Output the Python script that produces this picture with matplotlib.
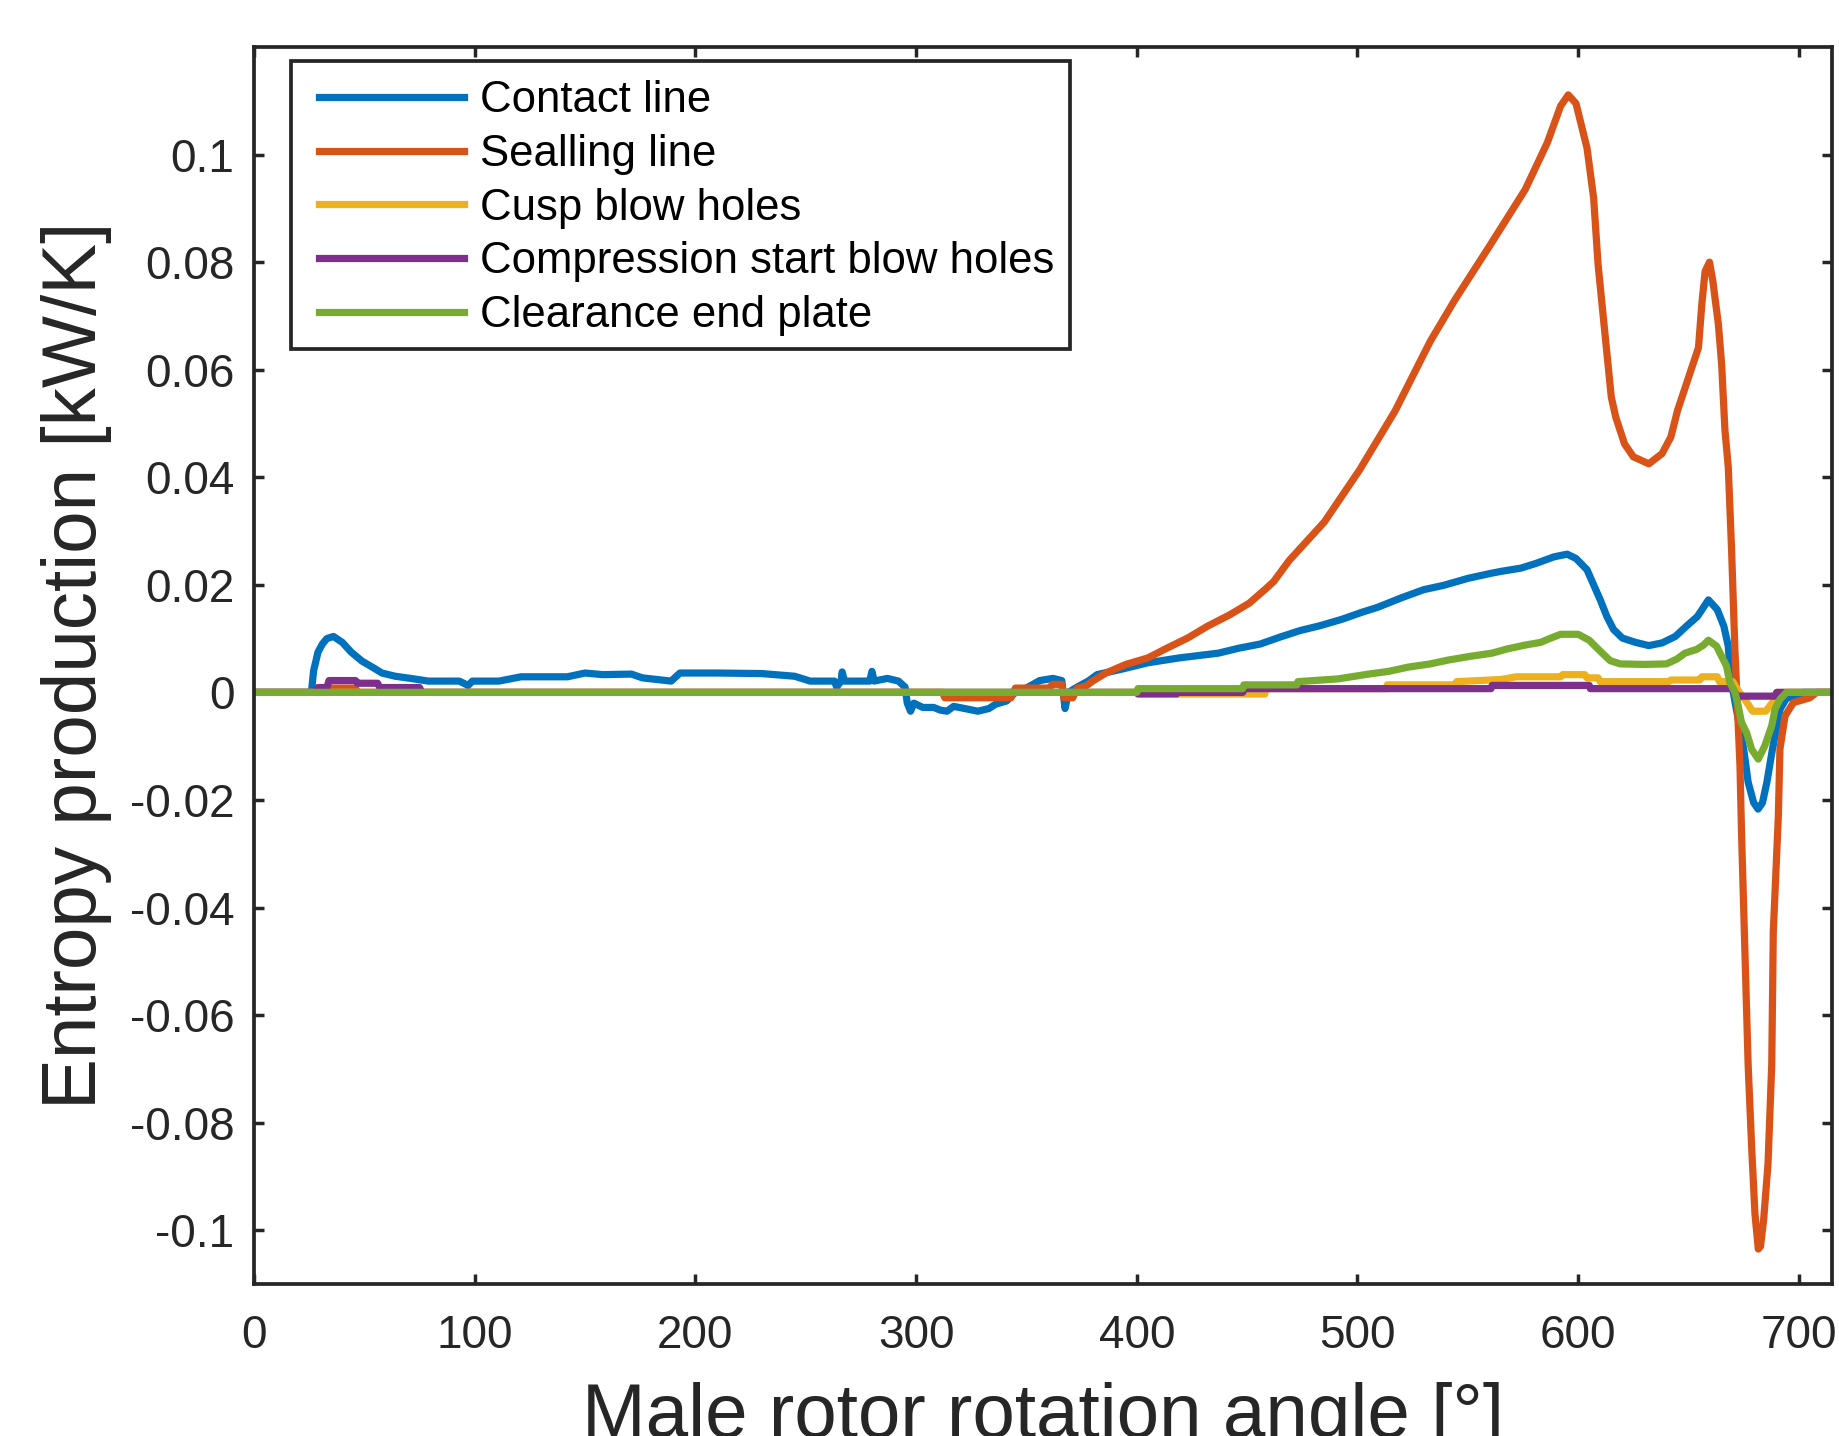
import matplotlib
matplotlib.use("Agg")
import matplotlib.pyplot as plt
from matplotlib.ticker import FixedLocator, FixedFormatter
from matplotlib.patches import Rectangle

plt.rcParams['font.family'] = ['Liberation Sans', 'DejaVu Sans']
plt.rcParams['axes.unicode_minus'] = False

# ---------------- data ----------------
contact_x = [0, 26, 27, 29, 31, 33, 36, 40, 44, 49, 54, 58, 64, 71, 79, 93, 97, 99, 111, 121, 142, 150, 158,
             171, 176, 189, 193, 210, 230, 245, 252, 263, 264, 266, 266.5, 267.5, 279, 280, 281, 287, 292,
             295, 296, 297.5, 299, 303, 308, 311, 314, 317, 322, 328, 333, 336, 341, 345, 349, 353, 356,
             362, 366, 367.5, 369, 373, 378, 382, 393, 405, 419, 437, 446, 456, 465, 474, 483, 493, 502,
             509, 520, 530, 539, 550, 560, 565, 574, 581, 589, 595, 599, 604, 607, 610, 613, 616, 620, 626,
             632, 638, 644, 649, 654, 659, 663, 666, 668, 669, 670, 675, 677, 679.5, 681.5, 683.5, 685.5,
             688, 691.5, 694.5, 700, 702, 715]
contact_y = [0, 0, 0.004, 0.0075, 0.0090, 0.0100, 0.0104, 0.0093, 0.0075, 0.0058, 0.0046, 0.0036, 0.0030,
             0.0026, 0.0021, 0.0021, 0.0013, 0.0021, 0.0021, 0.0029, 0.0029, 0.0036, 0.0033, 0.0034, 0.0027,
             0.0021, 0.0036, 0.0036, 0.0035, 0.0030, 0.0021, 0.0021, 0.0010, 0.0021, 0.0038, 0.0021, 0.0021,
             0.0039, 0.0021, 0.0026, 0.0021, 0.0010, -0.0020, -0.0035, -0.0020, -0.0028, -0.0028, -0.0033,
             -0.0035, -0.0026, -0.0030, -0.0035, -0.0030, -0.0022, -0.0016, 0.0000, 0.0006, 0.0015, 0.0022,
             0.0026, 0.0022, -0.0030, 0.0000, 0.0010, 0.0021, 0.0033, 0.0043, 0.0055, 0.0064, 0.0073, 0.0082,
             0.0090, 0.0103, 0.0115, 0.0124, 0.0136, 0.0149, 0.0158, 0.0176, 0.0191, 0.0199, 0.0212, 0.0221,
             0.0225, 0.0231, 0.0240, 0.0252, 0.0257, 0.0249, 0.0228, 0.0200, 0.0172, 0.0141, 0.0117, 0.0101,
             0.0093, 0.0087, 0.0092, 0.0104, 0.0123, 0.0141, 0.0172, 0.0154, 0.0123, 0.0086, 0.0030, 0.0006,
             -0.0106, -0.0167, -0.0205, -0.0217, -0.0205, -0.0167, -0.0106, -0.0031, -0.0010, -0.0010, 0.0, 0.0]

sealing_x = [0, 33, 34, 46, 47, 312, 313, 343, 345, 360, 362, 366, 367, 371, 373, 377, 380, 386, 395, 405,
             414, 423, 432, 442, 451, 458, 462, 469, 485, 501, 517, 533, 544, 560, 576, 586, 592, 595.5, 599,
             604, 607, 609, 612, 615, 617, 621, 625, 632, 638, 642, 645, 651, 654.5, 656, 657.5, 659.5, 661,
             663.5, 665, 666.5, 668, 669.5, 671, 672, 673.3, 674, 675.5, 677, 678.6, 680.1, 681.6, 682.6, 684,
             686, 687.7, 688.4, 690.7, 691.4, 693.7, 697.5, 705, 708, 715]
sealing_y = [0, 0, 0.0008, 0.0008, 0, 0, -0.0010, -0.0010, 0.0008, 0.0008, 0.0015, 0.0015, -0.0010, -0.0010,
             0.0008, 0.0012, 0.0021, 0.0036, 0.0052, 0.0064, 0.0083, 0.0101, 0.0123, 0.0144, 0.0166, 0.0191,
             0.0206, 0.0245, 0.0317, 0.0414, 0.0523, 0.0653, 0.0729, 0.0831, 0.0935, 0.1022, 0.1090, 0.1111,
             0.1095, 0.1012, 0.0919, 0.0796, 0.0672, 0.0549, 0.0512, 0.0462, 0.0438, 0.0425, 0.0444, 0.0475,
             0.0524, 0.0598, 0.0641, 0.0721, 0.0783, 0.0800, 0.0765, 0.0685, 0.0610, 0.0487, 0.0419, 0.0265,
             0.0080, -0.0013, -0.0136, -0.0260, -0.0476, -0.0692, -0.0846, -0.0970, -0.1035, -0.1030, -0.0982,
             -0.0877, -0.0692, -0.0445, -0.0229, -0.0106, -0.0044, -0.0019, -0.0010, 0.0, 0.0]

cusp_x = [0, 418, 418.5, 458, 458.5, 513, 513.5, 544, 545, 565, 572, 592, 593, 603, 604, 609, 610, 641, 642,
          655, 656, 663, 664, 670, 673, 676, 679, 685, 688, 690, 715]
cusp_y = [0, 0, -0.0003, -0.0003, 0.0007, 0.0007, 0.0014, 0.0014, 0.0020, 0.0024, 0.0029, 0.0029, 0.0033,
          0.0033, 0.0027, 0.0027, 0.0020, 0.0020, 0.0023, 0.0023, 0.0029, 0.0029, 0.0020, 0.0020, 0.0,
          -0.0016, -0.0035, -0.0035, -0.0019, 0.0, 0]

compression_x = [0, 28, 29, 33, 34, 46, 47, 56, 57, 75, 76, 400, 400.5, 418, 418.5, 448, 448.5, 560.5,
                 561, 605, 605.5, 670, 672, 689, 690, 715]
compression_y = [0, 0, 0.0009, 0.0009, 0.0022, 0.0022, 0.0017, 0.0017, 0.0009, 0.0009, 0, 0, -0.0003,
                 -0.0003, 0, 0, 0.0007, 0.0007, 0.0013, 0.0013, 0.0007, 0.0007, -0.0007, -0.0007, 0, 0]

clearance_x = [0, 400, 400.5, 448, 448.5, 472.5, 473, 491, 505, 514, 523, 533, 541, 551, 561, 568, 576,
               583, 587, 592, 600, 605, 608.4, 611.4, 614.5, 619, 630, 640, 644.7, 648.4, 653.7, 656.8, 659,
               662.7, 665, 667.2, 668.7, 671, 672.5, 674, 676.3, 678.6, 681.6, 684.6, 687.7, 689.2, 691.4,
               694.4, 715]
clearance_y = [0, 0, 0.0007, 0.0007, 0.0014, 0.0014, 0.0020, 0.0025, 0.0034, 0.0039, 0.0047, 0.0053,
               0.0060, 0.0067, 0.0073, 0.0081, 0.0088, 0.0093, 0.0100, 0.0108, 0.0108, 0.0097, 0.0083,
               0.0071, 0.0059, 0.0053, 0.0052, 0.0053, 0.0062, 0.0073, 0.0080, 0.0088, 0.0097, 0.0086,
               0.0067, 0.0049, 0.0019, 0.0, -0.0025, -0.0056, -0.0075, -0.0106, -0.0124, -0.0099, -0.0062,
               -0.0031, -0.0013, 0.0, 0]

series_labels = ['Contact line', 'Sealling line', 'Cusp blow holes',
                 'Compression start blow holes', 'Clearance end plate']
series_colors = ['#0072BD', '#D95319', '#EDB120', '#7E2F8E', '#77AC30']

x_ticks = [0, 100, 200, 300, 400, 500, 600, 700]
x_tick_labels = ['0', '100', '200', '300', '400', '500', '600', '700']
y_ticks = [-0.1, -0.08, -0.06, -0.04, -0.02, 0, 0.02, 0.04, 0.06, 0.08, 0.1]
y_tick_labels = ['-0.1', '-0.08', '-0.06', '-0.04', '-0.02', '0', '0.02', '0.04', '0.06', '0.08', '0.1']

# ---------------- figure ----------------
dark = '#262626'
W, H = 1839, 1436
fig = plt.figure(figsize=(W / 100, H / 100), dpi=100)
ax = fig.add_axes([254 / W, 1 - 1284 / H, (1832 - 254) / W, (1284 - 47) / H])

series = [(contact_x, contact_y), (sealing_x, sealing_y), (cusp_x, cusp_y),
          (compression_x, compression_y), (clearance_x, clearance_y)]
for (xs, ys), lab, col in zip(series, series_labels, series_colors):
    ax.plot(xs, ys, color=col, lw=5.2, label=lab, solid_joinstyle='round')

ax.set_xlim(0, 715)
ax.set_ylim(-0.11, 0.12)
ax.xaxis.set_major_locator(FixedLocator(x_ticks))
ax.xaxis.set_major_formatter(FixedFormatter(x_tick_labels))
ax.yaxis.set_major_locator(FixedLocator(y_ticks))
ax.yaxis.set_major_formatter(FixedFormatter(y_tick_labels))

for s in ax.spines.values():
    s.set_linewidth(2.7)
    s.set_color(dark)
ax.tick_params(axis='both', direction='in', length=7.2, width=2.5, color=dark,
               top=True, right=True, labelsize=33, labelcolor=dark)
ax.tick_params(axis='x', pad=21.5)
ax.tick_params(axis='y', pad=14)

ax.set_ylabel('Entropy production [kW/K]', fontsize=55, color=dark)
ax.yaxis.set_label_coords(-0.09, 0.5)
ax.set_xlabel('Male rotor rotation angle [°]', fontsize=55, color=dark, va='top')
ax.xaxis.set_label_coords(0.5, -0.079)

# legend frame (box) and entries
frame = Rectangle((291 / W, 1 - 349 / H), (1070 - 291) / W, (349 - 61) / H,
                  transform=fig.transFigure, facecolor='white', edgecolor=dark,
                  linewidth=2.7, zorder=4.5, clip_on=False)
ax.add_patch(frame)
leg = ax.legend(loc='upper left', bbox_to_anchor=(319 / W, 1 - 80.4 / H),
                bbox_transform=fig.transFigure, fontsize=31.5, frameon=False,
                borderpad=0, labelspacing=0.29, handlelength=3.31, handletextpad=0.37,
                borderaxespad=0)
leg.set_zorder(5)
for t in leg.get_texts():
    t.set_color('black')

fig.savefig('out.png', dpi=100)
